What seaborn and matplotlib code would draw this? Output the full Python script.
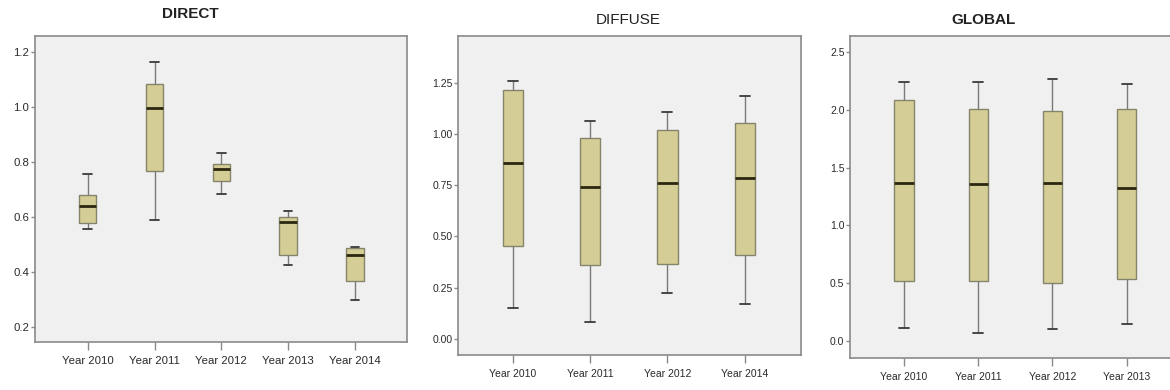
import numpy as np
import pandas as pd
import matplotlib
matplotlib.use("Agg")
import matplotlib.pyplot as plt
import seaborn as sns

# Five-number summaries (min, Q1, median, Q3, max) per year
direct_years = ["Year 2010", "Year 2011", "Year 2012", "Year 2013", "Year 2014"]
direct_min = [0.555, 0.589, 0.682, 0.424, 0.297]
direct_q1 = [0.578, 0.766, 0.729, 0.462, 0.368]
direct_med = [0.638, 0.996, 0.775, 0.580, 0.462]
direct_q3 = [0.681, 1.081, 0.792, 0.600, 0.488]
direct_max = [0.757, 1.164, 0.832, 0.623, 0.492]

diffuse_years = ["Year 2010", "Year 2011", "Year 2012", "Year 2014"]
diffuse_min = [0.150, 0.084, 0.221, 0.169]
diffuse_q1 = [0.453, 0.359, 0.364, 0.410]
diffuse_med = [0.857, 0.743, 0.759, 0.784]
diffuse_q3 = [1.214, 0.979, 1.019, 1.055]
diffuse_max = [1.258, 1.065, 1.109, 1.187]

global_years = ["Year 2010", "Year 2011", "Year 2012", "Year 2013"]
global_min = [0.115, 0.071, 0.109, 0.152]
global_q1 = [0.521, 0.518, 0.507, 0.541]
global_med = [1.371, 1.357, 1.365, 1.328]
global_q3 = [2.083, 2.007, 1.985, 2.002]
global_max = [2.235, 2.235, 2.261, 2.221]


def long_frame(years, *cols):
    rows = []
    for i, y in enumerate(years):
        for c in cols:
            rows.append({"year": y, "value": c[i]})
    return pd.DataFrame(rows)


sns.set_style("white")
plt.rcParams["font.family"] = ["Liberation Sans", "DejaVu Sans"]

fig = plt.figure(figsize=(11.7, 3.9), dpi=100)
W, H = 1170, 390


def px_axes(x0, y0, x1, y1):
    return fig.add_axes([x0 / W, (H - y1) / H, (x1 - x0) / W, (y1 - y0) / H])


BOX_FILL = "#d5cd96"
panels = [
    dict(rect=(35, 36, 407, 342), years=direct_years,
         cols=(direct_min, direct_q1, direct_med, direct_q3, direct_max),
         ylim=(0.146, 1.257), xlim=(-0.79, 4.78),
         yticks=[0.2, 0.4, 0.6, 0.8, 1.0, 1.2], fmt="{:.1f}",
         title="DIRECT", tx=190, ty=14, weight="bold", lsize=8.2),
    dict(rect=(458, 36, 801, 355), years=diffuse_years,
         cols=(diffuse_min, diffuse_q1, diffuse_med, diffuse_q3, diffuse_max),
         ylim=(-0.0795, 1.478), xlim=(-0.714, 3.73),
         yticks=[0.0, 0.25, 0.5, 0.75, 1.0, 1.25], fmt="{:.2f}",
         title="DIFFUSE", tx=628, ty=20, weight="normal", lsize=7.5),
    dict(rect=(850, 36, 1181, 358), years=global_years,
         cols=(global_min, global_q1, global_med, global_q3, global_max),
         ylim=(-0.144, 2.636), xlim=(-0.726, 3.73),
         yticks=[0.0, 0.5, 1.0, 1.5, 2.0, 2.5], fmt="{:.1f}",
         title="GLOBAL", tx=983, ty=20, weight="bold", lsize=7.5),
]

for p in panels:
    ax = px_axes(*p["rect"])
    df = long_frame(p["years"], *p["cols"])
    sns.boxplot(
        data=df, x="year", y="value", order=p["years"], ax=ax,
        color=BOX_FILL, width=0.26, whis=(0, 100), saturation=1,
        linewidth=1.0, linecolor="#7d7b66",
        boxprops=dict(edgecolor="#86846a", linewidth=1.0),
        whiskerprops=dict(color="#7a7a7a", linewidth=1.0),
        capprops=dict(color="#3a3a3a", linewidth=1.3),
        medianprops=dict(color="#2a2810", linewidth=2.0),
        showfliers=False,
    )
    ax.set_facecolor("#f0f0f0")
    ax.set_xlim(*p["xlim"])
    ax.set_ylim(*p["ylim"])
    ax.set_yticks(p["yticks"])
    ax.set_yticklabels([p["fmt"].format(v) for v in p["yticks"]])
    ax.set_xlabel("")
    ax.set_ylabel("")
    for s in ax.spines.values():
        s.set_visible(True)
        s.set_color("#8a8a8a")
        s.set_linewidth(1.2)
    ax.tick_params(axis="x", direction="out", length=6, width=1.0,
                   color="#8a8a8a", labelsize=p["lsize"], labelcolor="#2a2a2a", pad=4)
    ax.tick_params(axis="y", direction="out", length=3, width=1.0,
                   color="#8a8a8a", labelsize=p["lsize"], labelcolor="#2a2a2a", pad=1)
    ax.tick_params(left=True, bottom=True)
    fig.text(p["tx"] / W, 1 - p["ty"] / H, p["title"], ha="center",
             va="center", fontsize=11, fontweight=p["weight"], color="#222222")

fig.savefig("out.png", dpi=100, facecolor="white")
